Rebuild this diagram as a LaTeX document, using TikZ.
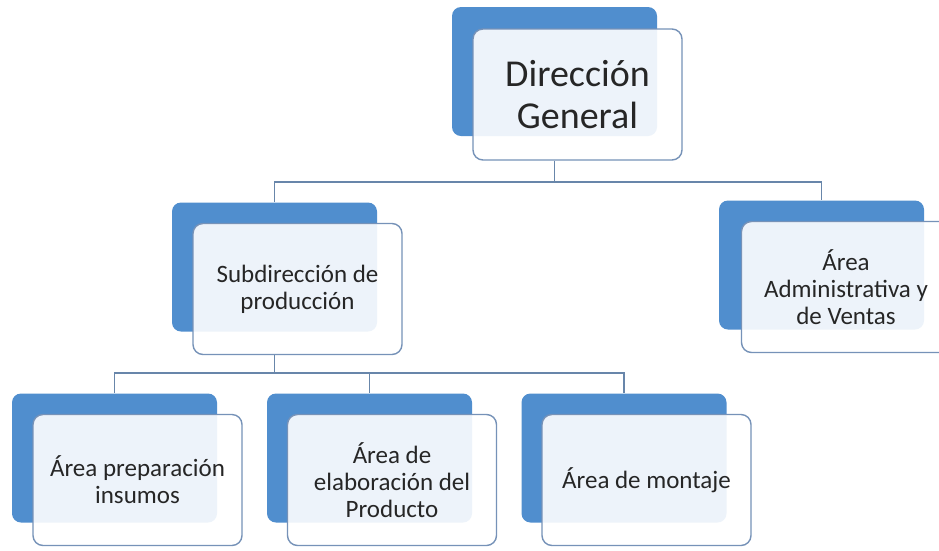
\documentclass[tikz,border=0pt]{standalone}
\usepackage{fontspec}
\setmainfont{Carlito}
\definecolor{backblue}{RGB}{80,142,206}
\definecolor{edgeblue}{RGB}{118,146,184}
\definecolor{lineblue}{RGB}{104,134,170}
\tikzset{
  backbox/.style={fill=backblue,rounded corners=9pt,minimum width=205pt,minimum height=129pt,inner sep=0pt},
  frontbox/.style={draw=edgeblue,line width=1.4pt,fill=white,fill opacity=0.9,text opacity=1,
    text=black!85,rounded corners=10pt,minimum width=209pt,minimum height=131pt,inner sep=0pt,
    align=center,font=\fontsize{25}{27}\selectfont},
  conn/.style={draw=lineblue,line width=1.8pt}
}
\begin{document}
\begin{tikzpicture}[x=1pt,y=-1pt]
            \fill[white] (0,0) rectangle (939,550);
            \useasboundingbox (0,0) rectangle (939,550);
            \node[backbox] (dirB) at (554.5,71.5) {};
            \node[frontbox,font=\fontsize{38}{42}\selectfont] (dir) at (577.5,94.5) {Dirección\\General};
            \node[backbox] (subB) at (274.5,267) {};
            \node[frontbox] (sub) at (297.5,289) {Subdirección de\\producción};
            \node[backbox] (admB) at (821.5,265) {};
            \node[frontbox] (adm) at (846,287) {Área\\Administrativa y\\de Ventas};
            \node[backbox] (insB) at (114.5,458) {};
            \node[frontbox] (ins) at (137.5,480) {Área preparación\\insumos};
            \node[backbox] (elaB) at (369.5,458) {};
            \node[frontbox] (ela) at (392,480) {Área de\\elaboración del\\Producto};
            \node[backbox] (monB) at (624,458) {};
            \node[frontbox] (mon) at (646.5,480) {Área de montaje};
            \draw[conn] (dir.south -| dirB.south) -- ++(0,21) coordinate (j1);
            \draw[conn] (j1) -| (subB.north);
            \draw[conn] (j1) -| (admB.north);
            \draw[conn] (sub.south -| subB.south) -- ++(0,18) coordinate (j2);
            \draw[conn] (j2) -| (insB.north);
            \draw[conn] (j2) -| (elaB.north);
            \draw[conn] (j2) -| (monB.north);
        \end{tikzpicture}
\end{document}
